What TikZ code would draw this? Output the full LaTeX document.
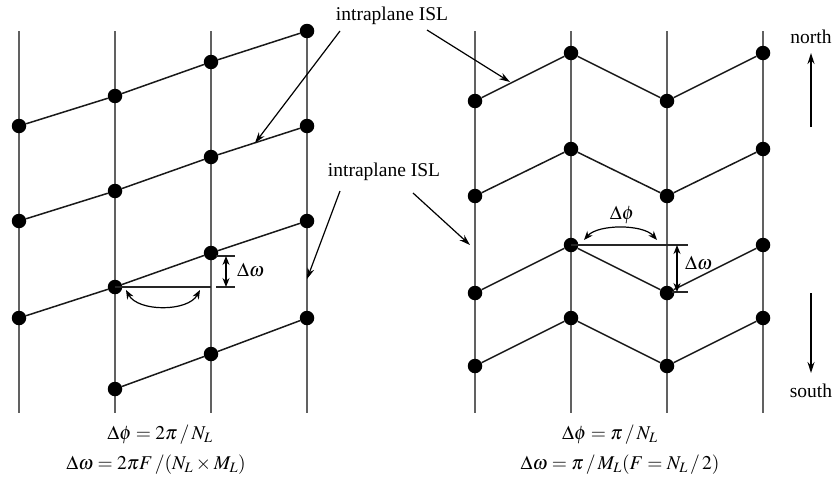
\documentclass[tikz,border=0pt]{standalone}
\usepackage{mathptmx}
\usepackage{fontspec}
\setmainfont{Liberation Serif}
\usetikzlibrary{arrows.meta}
\begin{document}
\begin{tikzpicture}[x=1pt,y=-1pt,
  sat/.style={circle,fill=black,minimum size=14.5pt,inner sep=0pt},
  plane/.style={draw=black!62,line width=1.9pt},
  isl/.style={draw=black!90,line width=1.5pt},
  lbl/.style={font=\fontsize{19.5}{21}\selectfont,inner sep=0pt},
  ptr/.style={draw=black,line width=1.2pt,-{Stealth[length=11pt,width=7pt]}},
  dim/.style={draw=black!85,line width=1.2pt},
  dimarr/.style={draw=black,line width=1.2pt,{Stealth[length=9pt,width=7pt]}-{Stealth[length=9pt,width=7pt]}},
  fml/.style={font=\fontsize{19.5}{21}\selectfont,inner sep=0pt}]
\useasboundingbox (0,0) rectangle (834,479);
% ---------- left: planes
\foreach \n/\x in {1/19,2/115,3/211,4/307}{
  \coordinate (LT\n) at (\x,31);
  \coordinate (LB\n) at (\x,413);
  \draw[plane] (LT\n) -- (LB\n);
}
% ---------- right: planes
\foreach \n/\x in {1/475,2/571,3/667,4/763}{
  \coordinate (RT\n) at (\x,31);
  \coordinate (RB\n) at (\x,413);
  \draw[plane] (RT\n) -- (RB\n);
}
% ---------- left satellites
\node[sat] (L11) at (19,126) {};
\node[sat] (L12) at (115,96) {};
\node[sat] (L13) at (211,62) {};
\node[sat] (L14) at (307,31) {};
\node[sat] (L21) at (19,221) {};
\node[sat] (L22) at (115,191) {};
\node[sat] (L23) at (211,157) {};
\node[sat] (L24) at (307,126) {};
\node[sat] (L31) at (19,318) {};
\node[sat] (L32) at (115,287) {};
\node[sat] (L33) at (211,253) {};
\node[sat] (L34) at (307,221) {};
\node[sat] (L42) at (115,389) {};
\node[sat] (L43) at (211,354) {};
\node[sat] (L44) at (307,318) {};
\draw[isl] (L11) -- (L12) -- (L13) -- (L14);
\draw[isl] (L21) -- (L22) -- (L23) -- (L24);
\draw[isl] (L31) -- (L32) -- (L33) -- (L34);
\draw[isl] (L42) -- (L43) -- (L44);
% ---------- right satellites
\node[sat] (R11) at (475,101) {};
\node[sat] (R12) at (571,53) {};
\node[sat] (R13) at (667,101) {};
\node[sat] (R14) at (763,53) {};
\node[sat] (R21) at (475,196) {};
\node[sat] (R22) at (571,149) {};
\node[sat] (R23) at (667,196) {};
\node[sat] (R24) at (763,149) {};
\node[sat] (R31) at (475,293) {};
\node[sat] (R32) at (571,245) {};
\node[sat] (R33) at (667,293) {};
\node[sat] (R34) at (763,245) {};
\node[sat] (R41) at (475,366) {};
\node[sat] (R42) at (571,318) {};
\node[sat] (R43) at (667,366) {};
\node[sat] (R44) at (763,318) {};
\draw[isl] (R11) -- (R12) -- (R13) -- (R14);
\draw[isl] (R21) -- (R22) -- (R23) -- (R24);
\draw[isl] (R31) -- (R32) -- (R33) -- (R34);
\draw[isl] (R41) -- (R42) -- (R43) -- (R44);
% ---------- labels and pointers
\node[lbl] (isl1) at (392,16) {intraplane ISL};
\node[lbl] (isl2) at (384,172) {intraplane ISL};
\coordinate (p1a) at (340,31);  \coordinate (p1b) at (255,143);
\coordinate (p2a) at (427,30);  \coordinate (p2b) at (510,82);
\coordinate (p3a) at (340,191); \coordinate (p3b) at (307,279);
\coordinate (p4a) at (413,193); \coordinate (p4b) at (470,245);
\draw[ptr] (p1a) -- (p1b);
\draw[ptr] (p2a) -- (p2b);
\draw[ptr] (p3a) -- (p3b);
\draw[ptr] (p4a) -- (p4b);
% ---------- left angle / offset
\coordinate (LhE) at (211,287);
\draw[dim] (L32.center) -- (LhE);
\coordinate (LtA) at (216,256); \coordinate (LtB) at (235,256);
\coordinate (LuA) at (216,287); \coordinate (LuB) at (235,287);
\draw[dim] (LtA) -- (LtB);
\draw[dim] (LuA) -- (LuB);
\coordinate (LdA) at (226,256); \coordinate (LdB) at (226,287);
\draw[dimarr] (LdA) -- (LdB);
\node[lbl,anchor=west] (Ldw) at (237,270) {$\Delta\omega$};
\coordinate (LaA) at (126,290); \coordinate (LaB) at (200,290);
\draw[dimarr] (LaA) .. controls (138,312) and (188,312) .. (LaB);
% ---------- right angle / offset
\coordinate (RhE) at (688,245);
\draw[dim] (R32.center) -- (RhE);
\coordinate (RuA) at (672,292); \coordinate (RuB) at (688,292);
\draw[dim] (RuA) -- (RuB);
\coordinate (RdA) at (677,245); \coordinate (RdB) at (677,292);
\draw[dimarr] (RdA) -- (RdB);
\node[lbl,anchor=west] (Rdw) at (685,263) {$\Delta\omega$};
\coordinate (RaA) at (584,240); \coordinate (RaB) at (657,240);
\draw[dimarr] (RaA) .. controls (598,224) and (643,224) .. (RaB);
\node[lbl] (Rdp) at (622,215) {$\Delta\phi$};
% ---------- north / south
\node[lbl] (north) at (811,37) {north};
\coordinate (nA) at (811,127); \coordinate (nB) at (811,53);
\draw[ptr] (nA) -- (nB);
\node[lbl] (south) at (811,391) {south};
\coordinate (sA) at (811,293); \coordinate (sB) at (811,373);
\draw[ptr] (sA) -- (sB);
% ---------- formulas
\node[fml] (f1) at (160,435) {$\Delta\phi = 2\pi\,/\,N_L$};
\node[fml] (f2) at (156,465) {$\Delta\omega = 2\pi F\,/(N_L\times M_L)$};
\node[fml] (f3) at (610,435) {$\Delta\phi = \pi\,/\,N_L$};
\node[fml] (f4) at (620,465) {$\Delta\omega = \pi\,/\,M_L(F = N_L\,/\,2)$};
\end{tikzpicture}
\end{document}
